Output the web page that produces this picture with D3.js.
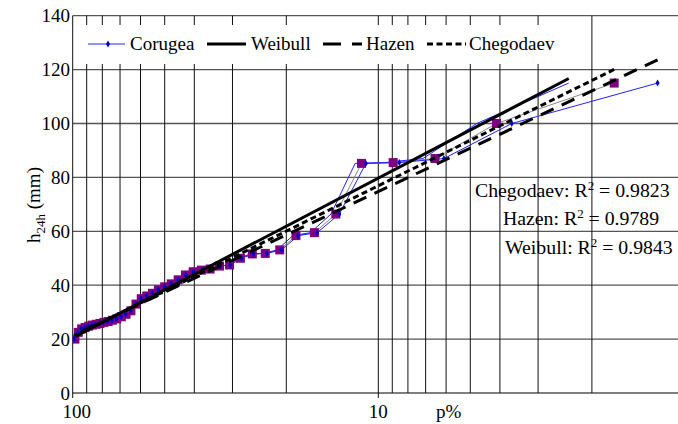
<!DOCTYPE html>
<html>
<head>
<meta charset="utf-8">
<script src="https://cdn.jsdelivr.net/npm/d3@7"></script>
<style>
  body { margin: 0; background: #fff; }
</style>
</head>
<body>
<div id="plot_here"></div>
<script>
// observed 24h maxima (mm), sorted descending (rank m = 1..n)
var obsValues = [115, 100, 87, 85.5, 85.2, 66.4, 59.5, 58.4, 53.1, 51.8,
                 51.6, 50, 47.5, 47.1, 46, 45.6, 45, 43.8, 42, 40.5,
                 39.4, 38.3, 37, 36, 35, 33, 30.5, 29.2, 28.3, 27.5,
                 27, 26.5, 26.2, 25.8, 25.5, 25.2, 24.8, 24.3, 23.8, 22.5, 20];

// fitted lines h = a + b * (2 - log10 p)
var fitNames = ["Weibull", "Hazen", "Chegodaev"];
var fitA     = [20.45, 21.3, 21.0];
var fitB     = [59.3, 53.45, 55.9];
var fitR2    = ["0.9843", "0.9789", "0.9823"];

var yTicks = [0, 20, 40, 60, 80, 100, 120, 140];
var xGrid  = [100, 90, 80, 70, 60, 50, 40, 30, 20, 10, 9, 8, 7, 6, 5, 4, 3, 2, 1];
var xLabels = [100, 10];

var width = 678, height = 424;
var n = obsValues.length;
var serif = "'Liberation Serif', 'Times New Roman', serif";

// plotting positions (%) for each rank
var weibullP   = obsValues.map(function(v, i) { return (i + 1) / (n + 1) * 100; });
var hazenP     = obsValues.map(function(v, i) { return (i + 0.5) / n * 100; });
var chegodaevP = obsValues.map(function(v, i) { return (i + 0.7) / (n + 0.4) * 100; });

var svg = d3.select("#plot_here")
  .append("svg")
  .attr("width", width)
  .attr("height", height)
  .style("font-family", serif);

var x = d3.scaleLog()
  .domain([100, 1])
  .range([72.7, 683.9]);

var y = d3.scaleLinear()
  .domain([0, 140])
  .range([393, 15.7]);

svg.append("clipPath").attr("id", "plotclip")
  .append("rect")
    .attr("x", x(100)).attr("y", y(140))
    .attr("width", width - x(100)).attr("height", y(0) - y(140));

// grid
svg.selectAll("hgrid")
  .data(yTicks)
  .enter()
  .append("line")
    .attr("x1", x(100))
    .attr("x2", width)
    .attr("y1", function(d) { return y(d); })
    .attr("y2", function(d) { return y(d); })
    .attr("stroke", "#555")
    .attr("stroke-width", 1.3)

svg.selectAll("vgrid")
  .data(xGrid)
  .enter()
  .append("line")
    .attr("x1", function(d) { return x(d); })
    .attr("x2", function(d) { return x(d); })
    .attr("y1", y(140))
    .attr("y2", y(0))
    .attr("stroke", "#111")
    .attr("stroke-width", 1)

// axis ticks below the frame
svg.selectAll("xtick")
  .data(xLabels)
  .enter()
  .append("line")
    .attr("x1", function(d) { return x(d); })
    .attr("x2", function(d) { return x(d); })
    .attr("y1", y(0))
    .attr("y2", y(0) + 5)
    .attr("stroke", "#111")

svg.selectAll("ylab")
  .data(yTicks)
  .enter()
  .append("text")
    .attr("x", 70)
    .attr("y", function(d) { return y(d); })
    .attr("dy", "0.35em")
    .attr("text-anchor", "end")
    .style("font-size", "19px")
    .text(function(d) { return d; });

svg.selectAll("xlab")
  .data(xLabels)
  .enter()
  .append("text")
    .attr("x", function(d) { return x(d) + (d == 100 ? 4 : 0); })
    .attr("y", 418)
    .attr("text-anchor", "middle")
    .style("font-size", "19px")
    .text(function(d) { return d; });

svg.append("text")
    .attr("x", 436)
    .attr("y", 418)
    .style("font-size", "19px")
    .text("p%");

var ylabel = svg.append("text")
    .attr("transform", "translate(40,205)rotate(-90)")
    .attr("text-anchor", "middle")
    .style("font-size", "19px");
ylabel.append("tspan").text("h");
ylabel.append("tspan").attr("dy", 5).style("font-size", "13px").text("24h");
ylabel.append("tspan").attr("dy", -5).text(" (mm)");

var plot = svg.append("g").attr("clip-path", "url(#plotclip)");

var line = d3.line()
  .x(function(d) { return x(d[0]); })
  .y(function(d) { return y(d[1]); });

// observed points at the three plotting positions
plot.append("path")
  .datum(d3.zip(chegodaevP, obsValues))
  .attr("d", line)
  .attr("fill", "none")
  .attr("stroke", "#8a8a8a")
  .attr("stroke-width", 1)

plot.append("path")
  .datum(d3.zip(weibullP, obsValues))
  .attr("d", line)
  .attr("fill", "none")
  .attr("stroke", "#2323ff")
  .attr("stroke-width", 1)

plot.append("path")
  .datum(d3.zip(hazenP, obsValues))
  .attr("d", line)
  .attr("fill", "none")
  .attr("stroke", "#2323ff")
  .attr("stroke-width", 1)

plot.selectAll("mysquare")
  .data(d3.zip(chegodaevP, obsValues))
  .enter()
  .append("rect")
    .attr("x", function(d) { return x(d[0]) - 4.5; })
    .attr("y", function(d) { return y(d[1]) - 4.5; })
    .attr("width", 9)
    .attr("height", 9)
    .attr("fill", "#800080")

plot.selectAll("mydiamond")
  .data(d3.zip(hazenP, obsValues))
  .enter()
  .append("path")
    .attr("d", d3.symbol().type(d3.symbolDiamond).size(14))
    .attr("transform", function(d) { return "translate(" + x(d[0]) + "," + y(d[1]) + ")"; })
    .attr("fill", "#0000cc")

// fitted lines
var fitDash = [null, "14,9", "6,3.5"];
var fitP = [weibullP, hazenP, chegodaevP];
fitNames.forEach(function(name, k) {
  var ends = d3.extent(fitP[k]).map(function(p) {
    return [p, fitA[k] + fitB[k] * (2 - Math.log10(p))];
  });
  plot.append("path")
    .datum(ends)
    .attr("d", line)
    .attr("fill", "none")
    .attr("stroke", "#000")
    .attr("stroke-width", 3)
    .attr("stroke-dasharray", fitDash[k])
});

// legend
svg.append("rect")
    .attr("x", 74).attr("y", 25)
    .attr("width", 488).attr("height", 39)
    .attr("fill", "#fff")

var legY = 44;
svg.append("line")
    .attr("x1", 88).attr("x2", 125).attr("y1", legY).attr("y2", legY)
    .attr("stroke", "#2323ff").attr("stroke-width", 1)
svg.append("path")
    .attr("d", d3.symbol().type(d3.symbolDiamond).size(14))
    .attr("transform", "translate(108," + legY + ")")
    .attr("fill", "#0000cc")
svg.append("text").attr("x", 130).attr("y", 50).style("font-size", "19px").text("Corugea");

var legX = [207, 323, 427];
var legTextX = [251, 366, 469];
fitNames.forEach(function(name, k) {
  svg.append("line")
    .attr("x1", legX[k]).attr("x2", legX[k] + 39)
    .attr("y1", legY).attr("y2", legY)
    .attr("stroke", "#000").attr("stroke-width", 3)
    .attr("stroke-dasharray", k == 1 ? "18,11" : fitDash[k])
  svg.append("text").attr("x", legTextX[k]).attr("y", 50)
    .style("font-size", "19px").text(name);
});

// R2 annotations
var r2Order = [2, 1, 0];
var r2X = [475, 503, 505];
var r2Y = [197, 225, 254];
r2Order.forEach(function(k, j) {
  var t = svg.append("text")
    .attr("x", r2X[j]).attr("y", r2Y[j])
    .style("font-size", "19.8px");
  t.append("tspan").text(fitNames[k] + ": R");
  t.append("tspan").attr("dy", -7).style("font-size", "13px").text("2");
  t.append("tspan").attr("dy", 7).text(" = " + fitR2[k]);
});
</script>
</body>
</html>
